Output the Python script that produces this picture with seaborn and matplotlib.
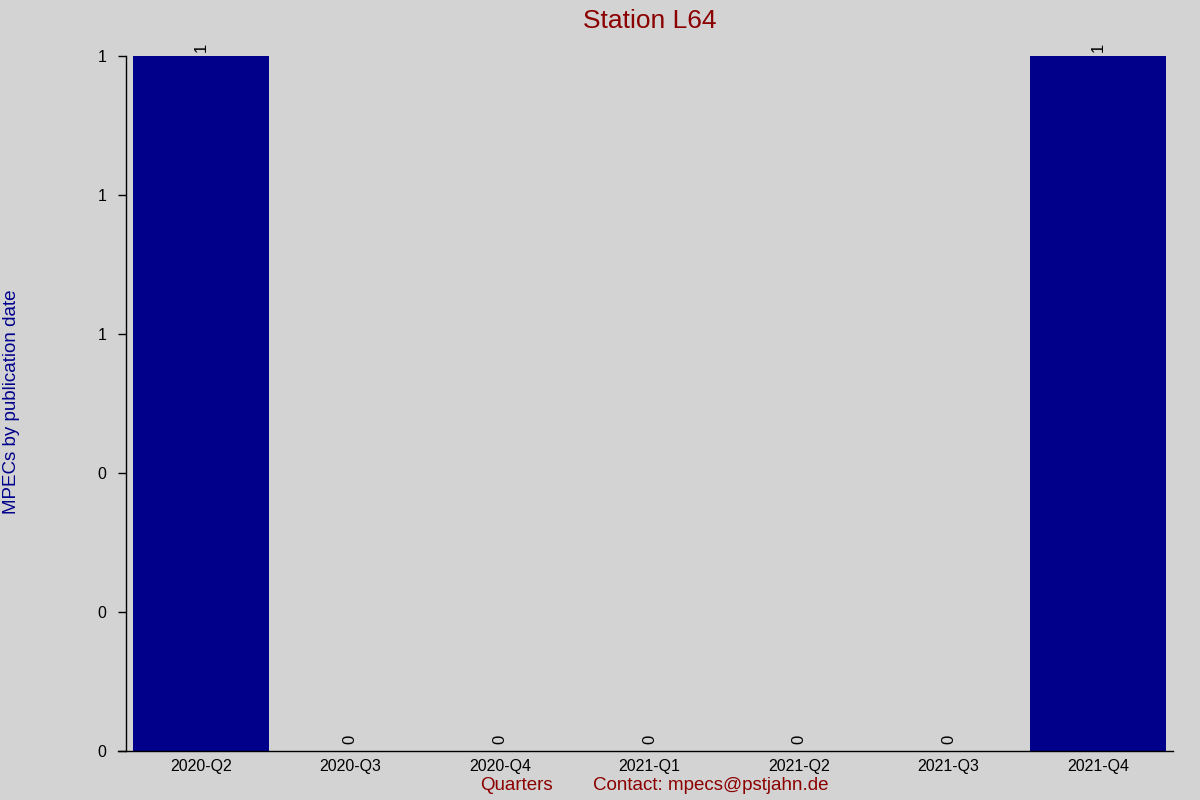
import matplotlib
matplotlib.use("Agg")
import pandas as pd
import seaborn as sns
import matplotlib.pyplot as plt
from matplotlib.ticker import FormatStrFormatter

# Data
quarters = ["2020-Q2", "2020-Q3", "2020-Q4", "2021-Q1", "2021-Q2", "2021-Q3", "2021-Q4"]
mpecs = [1, 0, 0, 0, 0, 0, 1]

df = pd.DataFrame({"Quarter": quarters, "MPECs": mpecs})

sns.set_style("white")
plt.rcParams["font.family"] = ["Liberation Sans", "DejaVu Sans"]

bg = "#d3d3d3"
fig = plt.figure(figsize=(12, 8), dpi=100, facecolor=bg)
ax = fig.add_axes([0.105, 0.06125, 0.8725, 0.86875])
ax.set_facecolor(bg)

sns.barplot(data=df, x="Quarter", y="MPECs", color="#00008b", saturation=1,
            width=0.91, linewidth=0, ax=ax)

ax.set_xlim(-0.5, len(quarters) - 0.5)
ax.set_ylim(0, 1)
ax.set_yticks([0, 0.2, 0.4, 0.6, 0.8, 1.0])
ax.yaxis.set_major_formatter(FormatStrFormatter("%.0f"))

# value labels, rotated above each bar
for i, v in enumerate(df["MPECs"]):
    off = 3 if v > 0 else 5
    ax.annotate(f"{v}", (i, v), xytext=(0, off), textcoords="offset points",
                rotation=90, ha="center", va="bottom", fontsize=12,
                color="black", annotation_clip=False)

for s in ["top", "right"]:
    ax.spines[s].set_visible(False)
for s in ["left", "bottom"]:
    ax.spines[s].set_color("black")
    ax.spines[s].set_linewidth(1)
ax.spines["bottom"].set_bounds(-0.554, len(quarters) - 0.5)

ax.tick_params(axis="y", direction="out", length=6, width=1, labelsize=11.5,
               left=True, pad=8, colors="black")
ax.tick_params(axis="x", length=0, labelsize=11.5, pad=6, colors="black")

ax.set_xlabel("")
ax.set_ylabel("")
fig.text(0.0095, 0.4975, "MPECs by publication date", color="#00008b",
         fontsize=13.5, rotation=90, ha="center", va="center")
ax.set_title("Station L64", color="#8b0000", fontsize=19, pad=20)

fig.text(0.43, 0.0175, "Quarters", color="#8b0000", fontsize=13.5, ha="center", va="center")
fig.text(0.592, 0.0175, "Contact: mpecs@pstjahn.de", color="#8b0000", fontsize=13.5,
         ha="center", va="center")

fig.savefig("out.png", dpi=100, facecolor=bg)
